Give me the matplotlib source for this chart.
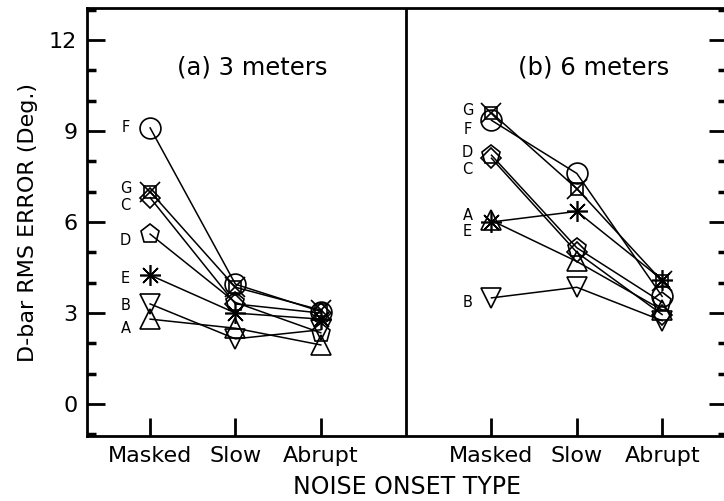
import matplotlib
matplotlib.use("Agg")
import matplotlib.pyplot as plt
import numpy as np

# noise onset categories, two panels (3 m at x=1..3, 6 m at x=5..7)
onsets = ["Masked", "Slow", "Abrupt"]
subjects = ["A", "B", "C", "D", "E", "F", "G"]

# panel (a) 3 meters : Masked, Slow, Abrupt
a_A = [2.8, 2.5, 1.95]
a_B = [3.3, 2.15, 2.45]
a_C = [6.8, 3.3, 3.0]
a_D = [5.6, 3.35, 2.35]
a_E = [4.25, 3.0, 2.8]
a_F = [9.1, 3.95, 3.05]
a_G = [7.0, 3.85, 3.1]

# panel (b) 6 meters
b_A = [6.05, 4.7, 3.1]
b_B = [3.5, 3.85, 2.75]
b_C = [8.1, 5.0, 2.95]
b_D = [8.2, 5.15, 3.35]
b_E = [6.0, 6.35, 4.1]
b_F = [9.35, 7.6, 3.55]
b_G = [9.6, 7.1, 4.05]

# where the subject letters sit (y) next to the Masked points
a_lab_y = [2.5, 3.25, 6.55, 5.4, 4.15, 9.1, 7.1]
b_lab_y = [6.2, 3.34, 7.72, 8.3, 5.68, 9.06, 9.67]

panel_a = [a_A, a_B, a_C, a_D, a_E, a_F, a_G]
panel_b = [b_A, b_B, b_C, b_D, b_E, b_F, b_G]

markers = {"A": ("^", 14), "B": ("v", 14), "C": ("D", 10), "D": ("p", 14),
           "E": ((8, 2, 0), 15), "F": ("o", 15), "G": ("s", 9)}

fig = plt.figure(figsize=(7.24, 5.01), dpi=100)
ax = fig.add_axes([87/724, 65/501, 640/724, 428/501])

x_a = np.array([1, 2, 3])
x_b = np.array([5, 6, 7])

for xs, panel, laby, labx in [(x_a, panel_a, a_lab_y, 0.71), (x_b, panel_b, b_lab_y, 4.72)]:
    for s, vals, ly in zip(subjects, panel, laby):
        m, ms = markers[s]
        ax.plot(xs, vals, "k-", lw=1.1, marker=m, ms=ms, mfc="none", mec="k", mew=1.2)
        if s == "G":
            ax.plot(xs, vals, "none", marker="x", ms=14, mec="k", mew=1.2)
        ax.text(labx, ly, s, ha="center", va="center", fontsize=10.5)

ax.axvline(4, color="k", lw=2)

ax.text(2.2, 11.08, "(a) 3 meters", ha="center", va="center", fontsize=17.5)
ax.text(6.2, 11.08, "(b) 6 meters", ha="center", va="center", fontsize=17.5)

ax.set_xlim(0.26, 7.76)
ax.set_ylim(-1.05, 13.05)
ax.set_xticks([1, 2, 3, 5, 6, 7])
ax.set_xticklabels(onsets + onsets)
ax.set_yticks([0, 3, 6, 9, 12])
ax.set_yticks(np.arange(-1, 14), minor=True)

ax.tick_params(axis="both", which="major", direction="in", length=13, width=2,
               labelsize=16, pad=7)
ax.tick_params(axis="y", which="minor", direction="in", length=6.5, width=2.5)
ax.tick_params(axis="y", which="both", right=True)
ax.tick_params(axis="x", which="minor", bottom=False)

for sp in ax.spines.values():
    sp.set_linewidth(2)

ax.set_ylabel("D-bar RMS ERROR (Deg.)", fontsize=16, labelpad=8)
fig.text(407/724, 1 - 487/501, "NOISE ONSET TYPE", ha="center", va="center", fontsize=17)

fig.savefig("out.png", dpi=100)
